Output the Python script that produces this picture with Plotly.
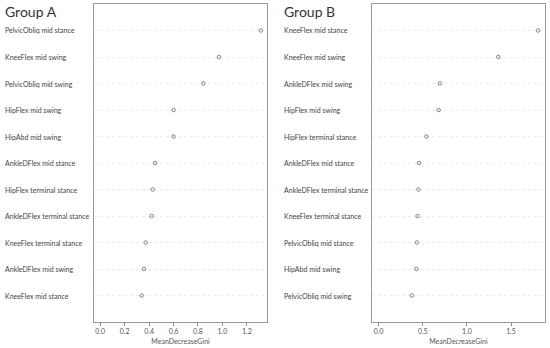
import plotly.graph_objects as go

# Group A (top to bottom)
labels_a = ["PelvicObliq mid stance", "KneeFlex mid swing", "PelvicObliq mid swing",
            "HipFlex mid swing", "HipAbd mid swing", "AnkleDFlex mid stance",
            "HipFlex terminal stance", "AnkleDFlex terminal stance",
            "KneeFlex terminal stance", "AnkleDFlex mid swing", "KneeFlex mid stance"]
values_a = [1.315, 0.973, 0.844, 0.600, 0.600, 0.448, 0.430, 0.421, 0.372, 0.358, 0.339]

# Group B (top to bottom)
labels_b = ["KneeFlex mid stance", "KneeFlex mid swing", "AnkleDFlex mid swing",
            "HipFlex mid swing", "HipFlex terminal stance", "AnkleDFlex mid stance",
            "AnkleDFlex terminal stance", "KneeFlex terminal stance",
            "PelvicObliq mid stance", "HipAbd mid swing", "PelvicObliq mid swing"]
values_b = [1.807, 1.356, 0.694, 0.680, 0.541, 0.458, 0.451, 0.440, 0.432, 0.428, 0.375]

ticks_a = [0.0, 0.2, 0.4, 0.6, 0.8, 1.0, 1.2]
ticks_b = [0.0, 0.5, 1.0, 1.5]
titles = ["Group A", "Group B"]
x_title = "MeanDecreaseGini"

FONT = "Lato"
W, H = 550, 348
fig = go.Figure()

groups = [(labels_a, values_a, ticks_a, "x", "y", 93.8, 267.3, 3),
          (labels_b, values_b, ticks_b, "x2", "y2", 372.3, 544.5, 282)]

y_dom = [(H - 322) / H, (H - 4) / H]
annotations = []
for i, (labs, vals, ticks, xa, ya, x0, x1, lx) in enumerate(groups):
    n = len(labs)
    ypos = list(range(n, 0, -1))
    fig.add_trace(go.Scatter(x=vals, y=ypos, mode="markers", xaxis=xa, yaxis=ya,
                             marker=dict(symbol="circle-open", size=3.5, color="#666",
                                         line=dict(width=0.8)),
                             showlegend=False, hoverinfo="skip"))
    vmax = max(vals)
    xkey = "xaxis" if i == 0 else "xaxis2"
    ykey = "yaxis" if i == 0 else "yaxis2"
    fig.update_layout(**{
        xkey: dict(domain=[x0 / W, x1 / W], range=[-0.04 * vmax, 1.04 * vmax],
                   tickvals=ticks, tickformat=".1f", ticks="outside", ticklen=3,
                   tickcolor="#888", showline=True, linecolor="#999", mirror=True,
                   showgrid=False, zeroline=False, anchor=ya, automargin=False,
                   tickfont=dict(family=FONT, size=7, color="#555"),
                   title=dict(text=x_title, font=dict(family=FONT, size=7, color="#555"),
                              standoff=4)),
        ykey: dict(domain=y_dom, range=[0, n + 1], tickvals=ypos, showticklabels=False,
                   showgrid=True, gridcolor="#ebebeb", griddash="dot", gridwidth=1,
                   showline=True, linecolor="#999", mirror=True, zeroline=False,
                   anchor=xa, ticks="", automargin=False),
    })
    for lab, yy in zip(labs, ypos):
        annotations.append(dict(x=lx / W, xref="paper", y=yy, yref=ya, text=lab,
                                showarrow=False, xanchor="left", yanchor="middle",
                                font=dict(family=FONT, size=7, color="#444")))
    annotations.append(dict(x=lx / W, xref="paper", y=1 - 1 / H, yref="paper",
                            text=titles[i], showarrow=False, xanchor="left",
                            yanchor="top", font=dict(family=FONT, size=14, color="#333")))

fig.update_layout(width=W, height=H, margin=dict(l=0, r=0, t=0, b=0),
                  paper_bgcolor="white", plot_bgcolor="white",
                  annotations=annotations)
fig.write_html("out.html", config={"displayModeBar": False},
               post_script="document.body.style.margin='0';document.body.style.overflow='hidden';")
